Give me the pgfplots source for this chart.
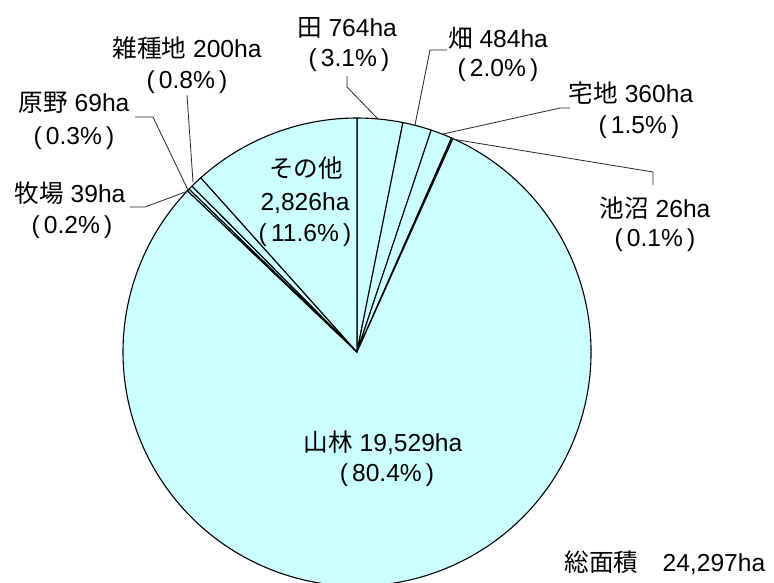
\documentclass[border=0pt]{standalone}
\usepackage{fontspec}
\setmainfont{Liberation Sans}
\newfontfamily\cjk{Noto Sans CJK JP}
\usepackage{pgfplots}
\usepackage{pgfplotstable}
\pgfplotsset{compat=1.18}
\definecolor{piecyan}{HTML}{CCFFFF}
\newcommand\fs{\fontsize{24.6}{28}\selectfont}

% land use (ha), clockwise from 12 o'clock:
% 田, 畑, 宅地, 池沼, 山林, 牧場, 原野, 雑種地, その他
\pgfplotstableread{
value
764
484
360
26
19529
39
69
200
2826
}\landuse

\begin{document}
\begin{tikzpicture}
\pgfplotstablegetrowsof{\landuse}
\pgfmathtruncatemacro\lastrow{\pgfplotsretval-1}
\gdef\total{0}
\foreach \i in {0,...,\lastrow}{%
  \pgfplotstablegetelem{\i}{value}\of\landuse
  \xdef\total{\fpeval{\total+\pgfplotsretval}}%
}
\gdef\cum{0}
\foreach \i in {0,...,\lastrow}{%
  \pgfplotstablegetelem{\i}{value}\of\landuse
  \expandafter\xdef\csname sa\i\endcsname{\fpeval{90-360*\cum/\total}}%
  \xdef\cum{\fpeval{\cum+\pgfplotsretval}}%
  \expandafter\xdef\csname ea\i\endcsname{\fpeval{90-360*\cum/\total}}%
}
\begin{axis}[
  width=774pt, height=582pt, scale only axis,
  xmin=0, xmax=774, ymin=0, ymax=582, y dir=reverse,
  hide axis, clip=false,
]
\pgfplotsinvokeforeach{0,...,8}{%
  \edef\temp{\noexpand\filldraw[fill=piecyan, draw=black, line width=1.1pt, line join=round]
   (axis cs:357,352) -- ++(\csname sa#1\endcsname:234pt)
   arc[start angle=\csname sa#1\endcsname, end angle=\csname ea#1\endcsname, radius=234pt] -- cycle;}%
  \temp
}
% leader lines
\addplot[draw=black!85, line width=0.8pt, mark=none] coordinates {(347,76) (347,87) (378,119)};
\addplot[draw=black!85, line width=0.8pt, mark=none] coordinates {(447,50) (430,50) (415,125)};
\addplot[draw=black!85, line width=0.8pt, mark=none] coordinates {(570,108) (560,108) (443,134)};
\addplot[draw=black!85, line width=0.8pt, mark=none] coordinates {(452,139) (653,172) (653,185)};
\addplot[draw=black!85, line width=0.8pt, mark=none] coordinates {(187,95) (193,182)};
\addplot[draw=black!85, line width=0.8pt, mark=none] coordinates {(135,117) (153,117) (188,190)};
\addplot[draw=black!85, line width=0.8pt, mark=none] coordinates {(130,207) (145,207) (188,191)};
% labels
\node[font=\fs] at (axis cs:347,28) {{\cjk 田} 764ha};
\node[font=\fs] at (axis cs:349,60) {(\,3.1\%\,)};
\node[font=\fs] at (axis cs:498,38) {{\cjk 畑} 484ha};
\node[font=\fs] at (axis cs:498,70) {(\,2.0\%\,)};
\node[font=\fs] at (axis cs:631,93) {{\cjk 宅地} 360ha};
\node[font=\fs] at (axis cs:639,127) {(\,1.5\%\,)};
\node[font=\fs] at (axis cs:655,208) {{\cjk 池沼} 26ha};
\node[font=\fs] at (axis cs:655,240) {(\,0.1\%\,)};
\node[font=\fs] at (axis cs:187,48) {{\cjk 雑種地} 200ha};
\node[font=\fs] at (axis cs:187,82) {(\,0.8\%\,)};
\node[font=\fs] at (axis cs:74,103) {{\cjk 原野} 69ha};
\node[font=\fs] at (axis cs:74,138) {(\,0.3\%\,)};
\node[font=\fs] at (axis cs:70,193) {{\cjk 牧場} 39ha};
\node[font=\fs] at (axis cs:72,227) {(\,0.2\%\,)};
\node[font=\fs] at (axis cs:306,168) {\cjk その他};
\node[font=\fs] at (axis cs:305,203) {2,826ha};
\node[font=\fs] at (axis cs:305,235) {(\,11.6\%\,)};
\node[font=\fs] at (axis cs:383,443) {{\cjk 山林} 19,529ha};
\node[font=\fs] at (axis cs:387,475) {(\,80.4\%\,)};
\node[font=\fs] at (axis cs:665,563) {{\cjk 総面積}\hspace{0.7em} 24,297ha};
\end{axis}
\pgfresetboundingbox
\path[use as bounding box] (current axis.south west) rectangle (current axis.north east);
\end{tikzpicture}
\end{document}
